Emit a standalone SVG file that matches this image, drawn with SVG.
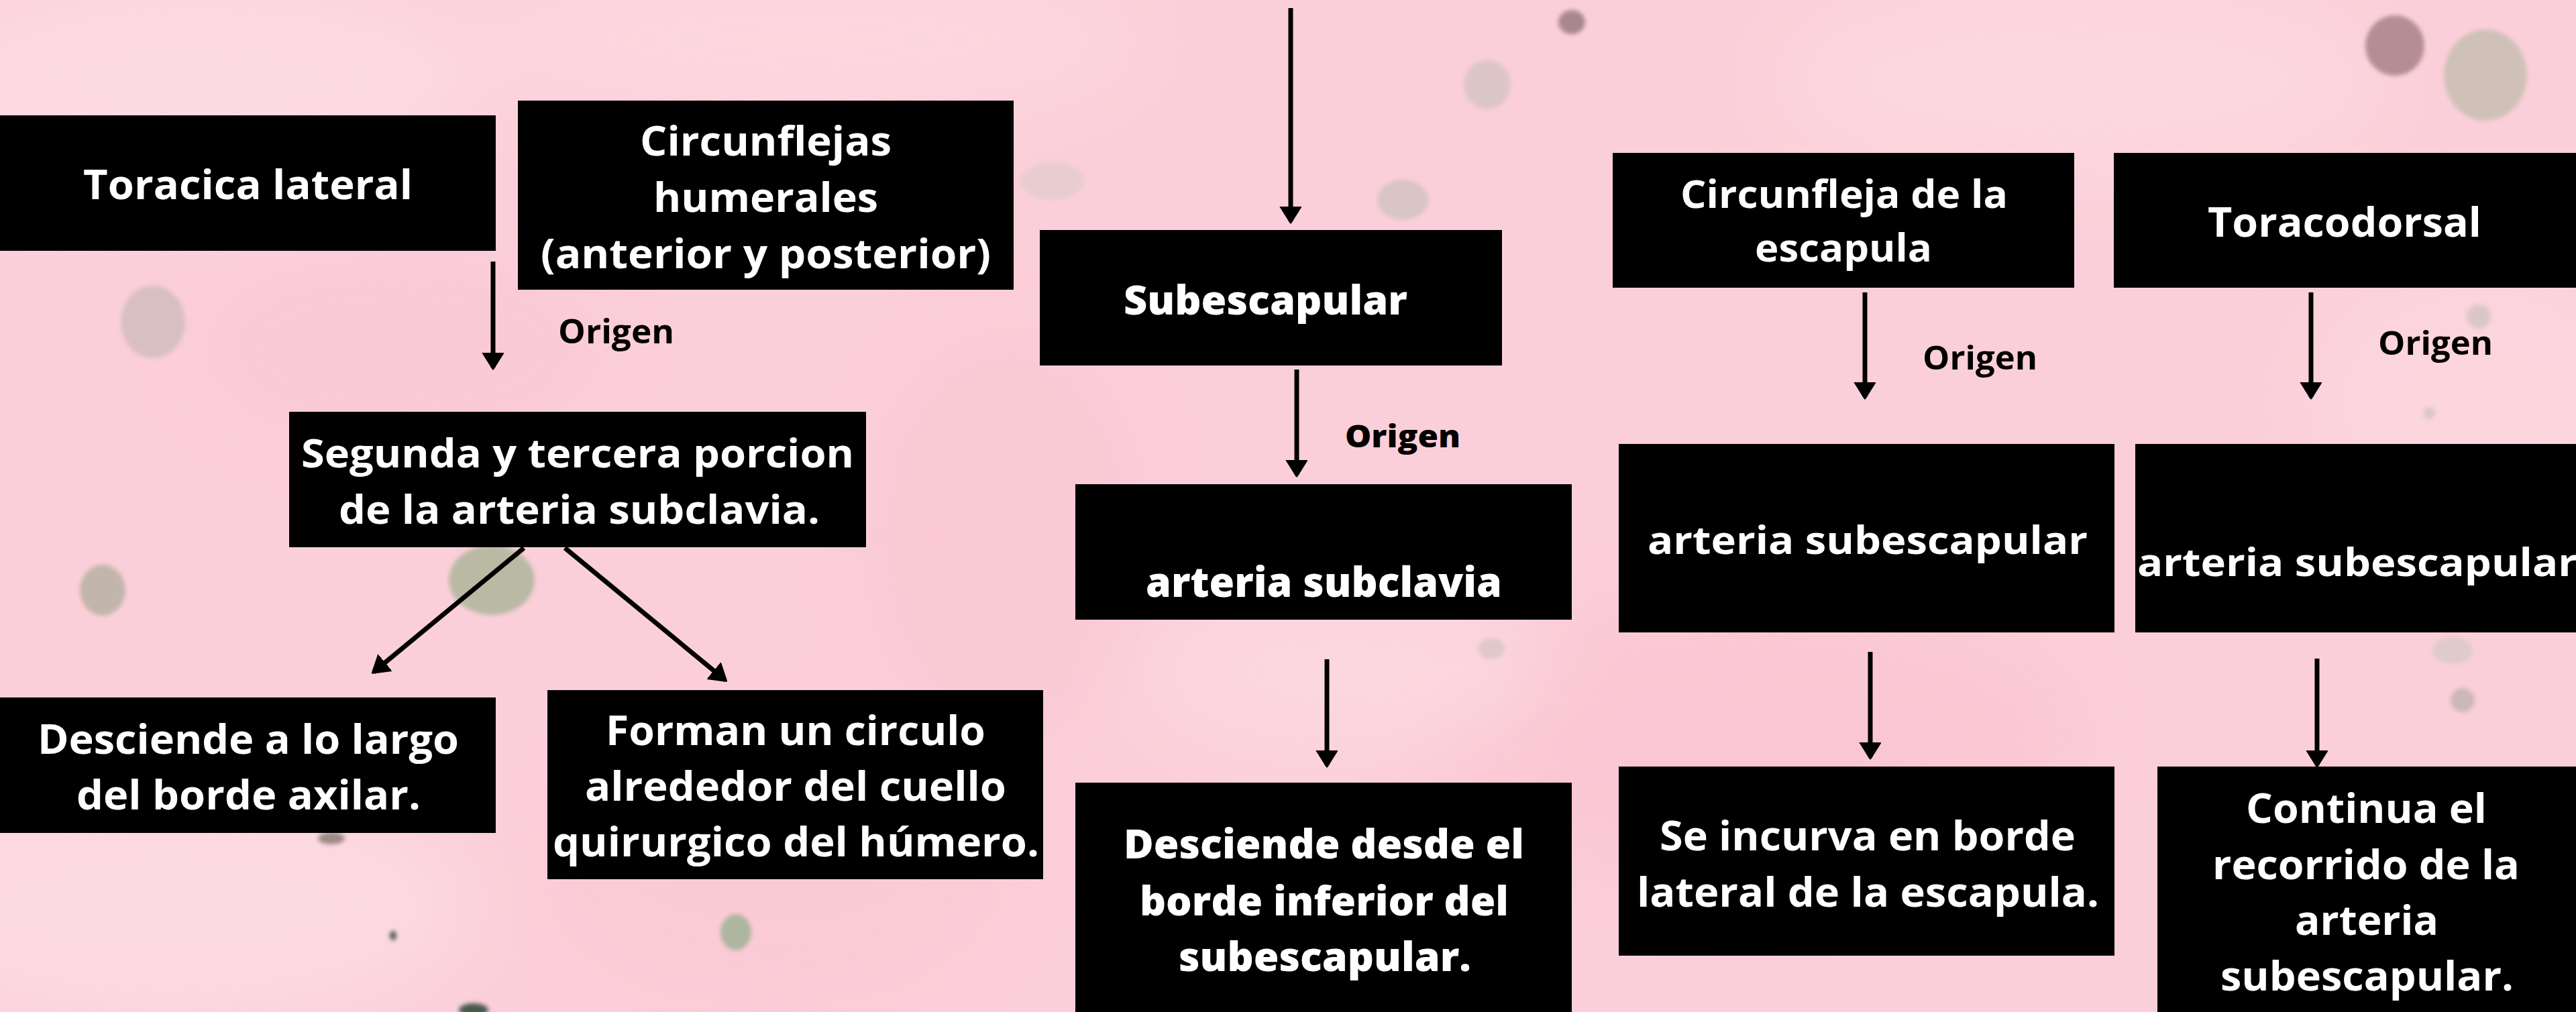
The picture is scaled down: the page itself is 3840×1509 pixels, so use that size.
<svg xmlns="http://www.w3.org/2000/svg" width="3840" height="1509" viewBox="0 0 3840 1509">
<defs>
<style>
.box{fill:#000}
.t{font-family:"Open Sans","Liberation Sans",sans-serif;font-weight:700;fill:#fff}
.o{font-family:"Open Sans","Liberation Sans",sans-serif;font-weight:700;fill:#000}
.w{font-weight:800}
.c{stroke:#000;stroke-width:7;fill:none}
</style>
<marker id="ah" markerUnits="userSpaceOnUse" markerWidth="34" markerHeight="34" refX="22" refY="16" orient="auto" viewBox="0 0 34 34">
<path d="M0,1 L24,16 L0,31 Z" fill="#000" stroke="#000" stroke-width="3" stroke-linejoin="round"/>
</marker>
<filter id="blur" x="-50%" y="-50%" width="200%" height="200%"><feGaussianBlur stdDeviation="60"/></filter>
<filter id="soft" x="-30%" y="-30%" width="160%" height="160%"><feGaussianBlur stdDeviation="3"/></filter>
</defs>
<g id="background">
<rect width="3840" height="1509" fill="#fbcfd9"/>
<g filter="url(#blur)" opacity="0.8">
<ellipse cx="300" cy="120" rx="420" ry="160" fill="#fddde4"/>
<ellipse cx="1200" cy="60" rx="500" ry="120" fill="#fdd8e0"/>
<ellipse cx="600" cy="520" rx="300" ry="120" fill="#f9c8d4"/>
<ellipse cx="250" cy="1350" rx="450" ry="180" fill="#fdddE4"/>
<ellipse cx="1150" cy="1300" rx="350" ry="200" fill="#fac9d4"/>
<ellipse cx="2600" cy="1100" rx="500" ry="200" fill="#f9c6d2"/>
<ellipse cx="3100" cy="120" rx="450" ry="150" fill="#fdd9e1"/>
<ellipse cx="2000" cy="1000" rx="300" ry="120" fill="#fdd9e1"/>
<ellipse cx="3700" cy="600" rx="250" ry="200" fill="#fdd7df"/>
<ellipse cx="1500" cy="800" rx="200" ry="300" fill="#f9c8d3"/>
</g>
<g filter="url(#soft)">
<ellipse cx="2343" cy="33" rx="20" ry="18" fill="#a88890"/>
<ellipse cx="2217" cy="126" rx="35" ry="37" fill="#dcc6c8"/>
<ellipse cx="3570" cy="68" rx="44" ry="45" fill="#b48e93"/>
<ellipse cx="3705" cy="112" rx="62" ry="68" fill="#cfc1b8"/>
<ellipse cx="228" cy="480" rx="48" ry="54" fill="#d8bfc2"/>
<ellipse cx="153" cy="880" rx="34" ry="38" fill="#c2b5ab"/>
<ellipse cx="733" cy="865" rx="64" ry="52" fill="#bab9a4"/>
<ellipse cx="1097" cy="1390" rx="23" ry="27" fill="#adb5a0"/>
<ellipse cx="586" cy="1395" rx="5" ry="7" fill="#4d5b52"/>
<ellipse cx="706" cy="1506" rx="22" ry="10" fill="#4a5a4e"/>
<ellipse cx="494" cy="1250" rx="20" ry="9" fill="#9d8a85"/>
<ellipse cx="2091" cy="298" rx="38" ry="30" fill="#d8c5c4"/>
<ellipse cx="1569" cy="270" rx="48" ry="28" fill="#e8ccd0"/>
<ellipse cx="2223" cy="967" rx="20" ry="16" fill="#e0c8ca"/>
<ellipse cx="3656" cy="970" rx="30" ry="20" fill="#e0cacb"/>
<ellipse cx="3671" cy="1044" rx="18" ry="18" fill="#ccb8b6"/>
<ellipse cx="3695" cy="472" rx="18" ry="18" fill="#dac7c5"/>
<ellipse cx="3621" cy="616" rx="9" ry="9" fill="#dac7c5"/>
</g>
</g>
<g id="connectors">
<line class="c" x1="1924" y1="12" x2="1924" y2="330" marker-end="url(#ah)"/>
<line class="c" x1="735" y1="390" x2="735" y2="548" marker-end="url(#ah)"/>
<line class="c" x1="1933" y1="551" x2="1933" y2="708" marker-end="url(#ah)"/>
<line class="c" x1="1978" y1="983" x2="1978" y2="1141" marker-end="url(#ah)"/>
<line class="c" x1="2780" y1="436" x2="2780" y2="592" marker-end="url(#ah)"/>
<line class="c" x1="3445" y1="436" x2="3445" y2="592" marker-end="url(#ah)"/>
<line class="c" x1="2788" y1="972" x2="2788" y2="1129" marker-end="url(#ah)"/>
<line class="c" x1="3454" y1="982" x2="3454" y2="1141" marker-end="url(#ah)"/>
<line class="c" x1="781" y1="817" x2="557" y2="1002" marker-end="url(#ah)"/>
<line class="c" x1="842" y1="817" x2="1081" y2="1014" marker-end="url(#ah)"/>
<text class="o" x="832" y="512" font-size="50" textLength="173" lengthAdjust="spacingAndGlyphs">Origen</text>
<text class="o w" x="2005" y="667" font-size="46" textLength="172" lengthAdjust="spacingAndGlyphs">Origen</text>
<text class="o" x="2866" y="551" font-size="48" textLength="171" lengthAdjust="spacingAndGlyphs">Origen</text>
<text class="o" x="3545" y="529" font-size="48" textLength="171" lengthAdjust="spacingAndGlyphs">Origen</text>
</g>
<g id="n-toracica-lateral">
<rect class="box" x="0" y="172" width="739" height="202"/>
<text class="t" x="124" y="297" font-size="61" textLength="491" lengthAdjust="spacingAndGlyphs">Toracica lateral</text>
</g>
<g id="n-circunflejas-humerales">
<rect class="box" x="772" y="150" width="739" height="282"/>
<text class="t" x="954" y="232" font-size="60" textLength="375" lengthAdjust="spacingAndGlyphs">Circunflejas</text>
<text class="t" x="974" y="316" font-size="60" textLength="335" lengthAdjust="spacingAndGlyphs">humerales</text>
<text class="t" x="806" y="400" font-size="60" textLength="671" lengthAdjust="spacingAndGlyphs">(anterior y posterior)</text>
</g>
<g id="n-segunda-tercera">
<rect class="box" x="431" y="614" width="860" height="202"/>
<text class="t" x="449" y="697" font-size="59" textLength="824" lengthAdjust="spacingAndGlyphs">Segunda y tercera porcion</text>
<text class="t" x="505" y="781" font-size="59" textLength="717" lengthAdjust="spacingAndGlyphs">de la arteria subclavia.</text>
</g>
<g id="n-desciende-axilar">
<rect class="box" x="0" y="1040" width="739" height="202"/>
<text class="t" x="56" y="1124" font-size="60" textLength="628" lengthAdjust="spacingAndGlyphs">Desciende a lo largo</text>
<text class="t" x="114" y="1207" font-size="60" textLength="513" lengthAdjust="spacingAndGlyphs">del borde axilar.</text>
</g>
<g id="n-forman-circulo">
<rect class="box" x="816" y="1029" width="739" height="282"/>
<text class="t" x="903" y="1111" font-size="60" textLength="566" lengthAdjust="spacingAndGlyphs">Forman un circulo</text>
<text class="t" x="872" y="1194" font-size="60" textLength="628" lengthAdjust="spacingAndGlyphs">alrededor del cuello</text>
<text class="t" x="824" y="1277" font-size="60" textLength="725" lengthAdjust="spacingAndGlyphs">quirurgico del húmero.</text>
</g>
<g id="n-subescapular">
<rect class="box" x="1550" y="343" width="689" height="202"/>
<text class="t w" x="1675" y="469" font-size="60" textLength="423" lengthAdjust="spacingAndGlyphs">Subescapular</text>
</g>
<g id="n-arteria-subclavia">
<rect class="box" x="1603" y="722" width="740" height="202"/>
<text class="t w" x="1708" y="890" font-size="62" textLength="531" lengthAdjust="spacingAndGlyphs">arteria subclavia</text>
</g>
<g id="n-desciende-desde">
<rect class="box" x="1603" y="1167" width="740" height="360"/>
<text class="t w" x="1675" y="1280" font-size="60" textLength="597" lengthAdjust="spacingAndGlyphs">Desciende desde el</text>
<text class="t w" x="1699" y="1365" font-size="60" textLength="550" lengthAdjust="spacingAndGlyphs">borde inferior del</text>
<text class="t w" x="1757" y="1448" font-size="60" textLength="436" lengthAdjust="spacingAndGlyphs">subescapular.</text>
</g>
<g id="n-circunfleja-escapula">
<rect class="box" x="2404" y="228" width="688" height="201"/>
<text class="t" x="2505" y="310" font-size="58" textLength="488" lengthAdjust="spacingAndGlyphs">Circunfleja de la</text>
<text class="t" x="2616" y="390" font-size="58" textLength="264" lengthAdjust="spacingAndGlyphs">escapula</text>
</g>
<g id="n-toracodorsal">
<rect class="box" x="3151" y="228" width="700" height="201"/>
<text class="t" x="3291" y="353" font-size="61" textLength="408" lengthAdjust="spacingAndGlyphs">Toracodorsal</text>
</g>
<g id="n-arteria-subescapular-1">
<rect class="box" x="2413" y="662" width="739" height="281"/>
<text class="t" x="2456" y="826" font-size="58" textLength="656" lengthAdjust="spacingAndGlyphs">arteria subescapular</text>
</g>
<g id="n-arteria-subescapular-2">
<rect class="box" x="3183" y="662" width="700" height="281"/>
<text class="t" x="3186" y="859" font-size="58" textLength="656" lengthAdjust="spacingAndGlyphs">arteria subescapular</text>
</g>
<g id="n-se-incurva">
<rect class="box" x="2413" y="1143" width="739" height="282"/>
<text class="t" x="2474" y="1268" font-size="60" textLength="620" lengthAdjust="spacingAndGlyphs">Se incurva en borde</text>
<text class="t" x="2440" y="1352" font-size="60" textLength="689" lengthAdjust="spacingAndGlyphs">lateral de la escapula.</text>
</g>
<g id="n-continua">
<rect class="box" x="3216" y="1143" width="700" height="380"/>
<text class="t" x="3348" y="1227" font-size="60" textLength="359" lengthAdjust="spacingAndGlyphs">Continua el</text>
<text class="t" x="3298" y="1311" font-size="60" textLength="458" lengthAdjust="spacingAndGlyphs">recorrido de la</text>
<text class="t" x="3421" y="1394" font-size="60" textLength="214" lengthAdjust="spacingAndGlyphs">arteria</text>
<text class="t" x="3310" y="1477" font-size="60" textLength="437" lengthAdjust="spacingAndGlyphs">subescapular.</text>
</g>
</svg>
